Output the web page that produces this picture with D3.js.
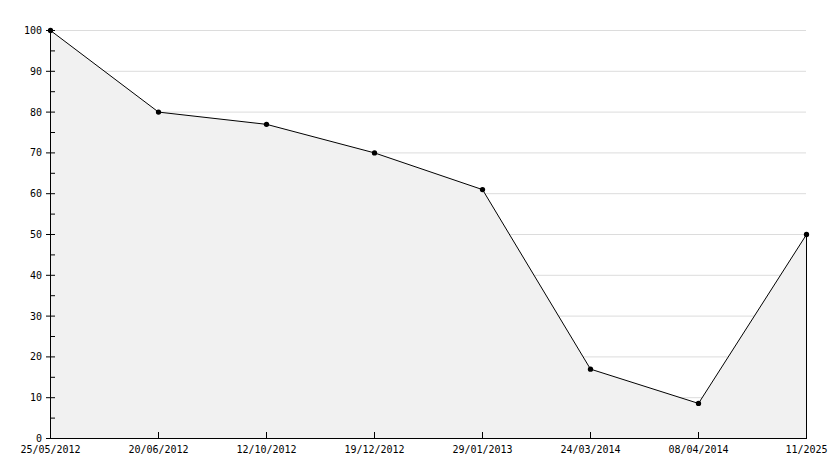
<!DOCTYPE html>
<html><head><meta charset="utf-8">
<script src="https://cdn.jsdelivr.net/npm/d3@7"></script>
<style>body{margin:0;background:#fff}svg{display:block}text{font-family:"DejaVu Sans Mono",monospace;font-size:10px;fill:#000}</style>
</head><body><div id="c"></div>
<script>
const categories = ["25/05/2012","20/06/2012","12/10/2012","19/12/2012","29/01/2013","24/03/2014","08/04/2014","11/2025"];
const values = [100, 80, 77, 70, 61, 17, 8.6, 50];
const yTicks = [0,10,20,30,40,50,60,70,80,90,100];
const yMinorTicks = [5,15,25,35,45,55,65,75,85,95];

const W=834,H=468;
const svg=d3.select("#c").append("svg").attr("width",W).attr("height",H);
const x=d3.scalePoint().domain(categories).range([50.5,806.5]);
const y=d3.scaleLinear().domain([0,100]).range([438.5,30.5]);

// grid
svg.append("g").selectAll("line").data(yTicks.filter(d=>d>0)).join("line")
 .attr("x1",50).attr("x2",806).attr("y1",d=>y(d)).attr("y2",d=>y(d))
 .attr("stroke","#dcdcdc").attr("stroke-width",1);

const pts=categories.map((c,i)=>[x(c),y(values[i])]);
// area
svg.append("path").datum(categories.map((c,i)=>({c,v:values[i]})))
 .attr("d",d3.area().x(d=>x(d.c)).y0(y(0)).y1(d=>y(d.v)))
 .attr("fill","#f1f1f1");
// right edge line
svg.append("line").attr("x1",x(categories[categories.length-1])).attr("x2",x(categories[categories.length-1]))
 .attr("y1",y(values[values.length-1])).attr("y2",y(0)).attr("stroke","#000");
// line
svg.append("path").datum(categories.map((c,i)=>({c,v:values[i]})))
 .attr("d",d3.line().x(d=>x(d.c)).y(d=>y(d.v)))
 .attr("fill","none").attr("stroke","#000").attr("stroke-width",1);

// y axis
const ya=svg.append("g");
ya.append("line").attr("x1",50.5).attr("x2",50.5).attr("y1",y(100)).attr("y2",y(0)+0.5).attr("stroke","#000");
ya.selectAll("line.maj").data(yTicks).join("line").attr("class","maj")
 .attr("x1",46).attr("x2",55).attr("y1",d=>y(d)).attr("y2",d=>y(d)).attr("stroke","#000");
ya.selectAll("line.min").data(yMinorTicks).join("line").attr("class","min")
 .attr("x1",50).attr("x2",55).attr("y1",d=>y(d)).attr("y2",d=>y(d)).attr("stroke","#000");
ya.selectAll("text").data(yTicks).join("text")
 .attr("x",42).attr("y",d=>y(d)).attr("dy","0.35em").attr("text-anchor","end").text(d=>d);

// x axis
const xa=svg.append("g");
xa.append("line").attr("x1",50).attr("x2",807).attr("y1",438.5).attr("y2",438.5).attr("stroke","#000");
xa.selectAll("line.t").data(categories.slice(1,-1)).join("line").attr("class","t")
 .attr("x1",d=>x(d)).attr("x2",d=>x(d)).attr("y1",432).attr("y2",438).attr("stroke","#000");
xa.selectAll("text").data(categories).join("text")
 .attr("x",d=>x(d)).attr("y",453).attr("text-anchor","middle").text(d=>d);

// markers
svg.append("g").selectAll("path").data(categories.map((c,i)=>({c,v:values[i]}))).join("path")
 .attr("transform",d=>`translate(${x(d.c)},${y(d.v)})`)
 .attr("d",d3.symbol(d3.symbolCircle,22)).attr("fill","#000");
</script></body></html>
